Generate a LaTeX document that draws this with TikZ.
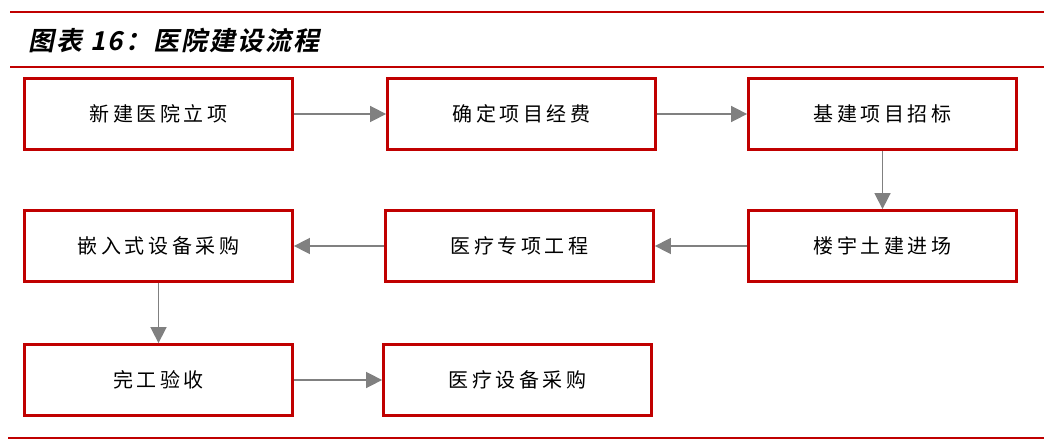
\documentclass[tikz,border=0pt]{standalone}
\usepackage{fontspec}
\usetikzlibrary{arrows.meta}
\newfontfamily\boxfont[LetterSpace=18]{Noto Sans CJK SC}
\newfontfamily\titlefont[FakeSlant=0.2,LetterSpace=8]{Noto Sans CJK SC Bold}
\definecolor{brdred}{HTML}{C00000}
\definecolor{arrgray}{HTML}{808080}
\tikzset{
  stepbox/.style={draw=brdred, line width=2.8pt, minimum width=268pt, minimum height=71pt, inner sep=0pt, font=\boxfont\fontsize{20pt}{24pt}\selectfont},
  flow/.style={draw=arrgray, line width=1.6pt, -{Triangle[length=16pt,width=16pt]}},
  rule/.style={draw=brdred, line width=2pt}
}
\begin{document}
\begin{tikzpicture}[x=1pt,y=-1pt]
\useasboundingbox (0,0) rectangle (1044,441);
\coordinate (t1a) at (10,12.5); \coordinate (t1b) at (1044,12.5);
\coordinate (t2a) at (10,67.5); \coordinate (t2b) at (1044,67.5);
\coordinate (t3a) at (8,438); \coordinate (t3b) at (1044,438);
\draw[rule] (t1a) -- (t1b);
\draw[rule] (t2a) -- (t2b);
\draw[rule] (t3a) -- (t3b);
\node[anchor=west, inner sep=0pt, font=\titlefont\fontsize{26pt}{30pt}\selectfont] (title) at (28,41) {图表 16：医院建设流程};
\node[stepbox] (b1) at (158.5,114) {新建医院立项};
\node[stepbox] (b2) at (521.5,114) {确定项目经费};
\node[stepbox] (b3) at (882.5,114) {基建项目招标};
\node[stepbox] (b6) at (882.5,246) {楼宇土建进场};
\node[stepbox] (b5) at (519.5,246) {医疗专项工程};
\node[stepbox] (b4) at (158.5,246) {嵌入式设备采购};
\node[stepbox] (b7) at (158.5,380) {完工验收};
\node[stepbox] (b8) at (517.5,380) {医疗设备采购};
\draw[flow] (b1) -- (b2);
\draw[flow] (b2) -- (b3);
\draw[flow] (b3) -- (b6);
\draw[flow] (b6) -- (b5);
\draw[flow] (b5) -- (b4);
\draw[flow] (b4) -- (b7);
\draw[flow] (b7) -- (b8);
\end{tikzpicture}
\end{document}
